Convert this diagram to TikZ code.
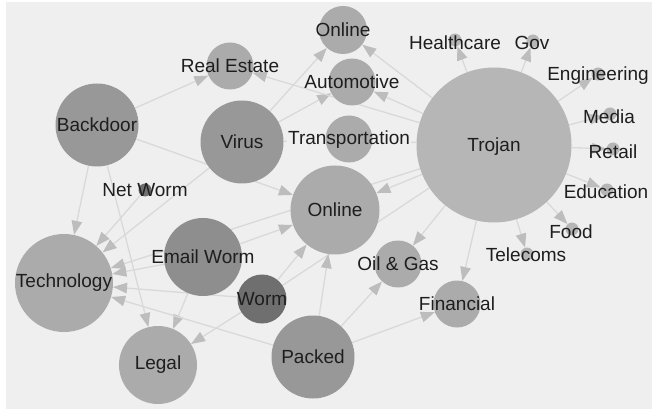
\documentclass[tikz,border=0pt]{standalone}
\usepackage{fontspec}
\setmainfont{Liberation Sans}
\usepackage{tikz}
\usetikzlibrary{arrows.meta}
\usetikzlibrary{backgrounds}

\definecolor{paper}{HTML}{EFEFEF}
\definecolor{wiregray}{HTML}{D9D9D9}
\definecolor{tipgray}{HTML}{BDBDBD}
\definecolor{palegray}{HTML}{B6B6B6}
\definecolor{midgray}{HTML}{ABABAB}
\definecolor{deepgray}{HTML}{989898}
\definecolor{emailgray}{HTML}{8E8E8E}
\definecolor{wormgray}{HTML}{6F6F6F}
\definecolor{inkgray}{HTML}{1E1E1E}

\tikzset{
	ball/.style={circle, inner sep=0pt, minimum size=#1, fill=midgray},
	dot/.style={ball=13pt, fill=palegray},
	lbl/.style={font=\fontsize{19}{21}\selectfont, text=inkgray, inner sep=1pt},
	wire/.style={draw=wiregray, line width=1.3pt},
	link/.style={wire, -{Triangle[length=14pt, width=10.5pt, color=tipgray]}}
}

\begin{document}
\begin{tikzpicture}[x=1pt, y=-1pt]
		\useasboundingbox (0,0) rectangle (652,411);

		\node[ball=48pt] (online-top) at (343,30) {};
		\node[ball=47pt] (realestate) at (230,66) {};
		\node[ball=47pt] (automotive) at (352,82) {};
		\node[ball=47pt] (transportation) at (349,139) {};
		\node[ball=83pt, fill=deepgray] (backdoor) at (97,125) {};
		\node[ball=83pt, fill=deepgray] (virus) at (242,142) {};
		\node[ball=155pt, fill=palegray] (trojan) at (494,145) {};
		\node[ball=89pt] (online) at (335,210) {};
		\node[ball=13pt, fill=wormgray] (networm) at (145,190) {};
		\node[ball=98pt] (technology) at (64,283) {};
		\node[ball=78pt, fill=emailgray] (emailworm) at (203,257) {};
		\node[ball=49pt, fill=wormgray] (worm) at (262,299) {};
		\node[ball=78pt] (legal) at (158,365) {};
		\node[ball=83pt, fill=deepgray] (packed) at (313,357) {};
		\node[ball=47pt] (oilgas) at (398,264) {};
		\node[ball=47pt] (financial) at (457,304) {};

		\node[dot] (healthcare) at (455,40) {};
		\node[dot] (gov) at (533,41) {};
		\node[dot] (engineering) at (598,74) {};
		\node[dot] (media) at (610,114) {};
		\node[dot] (retail) at (613,149) {};
		\node[dot] (education) at (607,190) {};
		\node[dot] (food) at (572,229) {};
		\node[dot] (telecoms) at (527,254) {};

		\node[lbl] at (online-top) {Online};
		\node[lbl] at (realestate) {Real Estate};
		\node[lbl] at (automotive) {Automotive};
		\node[lbl] (transportation-txt) at (349,140) {Transportation};
		\node[lbl] at (backdoor) {Backdoor};
		\node[lbl] at (virus) {Virus};
		\node[lbl] at (494,147) {Trojan};
		\node[lbl] at (online) {Online};
		\node[lbl] at (networm) {Net Worm};
		\node[lbl] at (technology) {Technology};
		\node[lbl] at (emailworm) {Email Worm};
		\node[lbl] at (worm) {Worm};
		\node[lbl] at (legal) {Legal};
		\node[lbl] at (packed) {Packed};
		\node[lbl] at (oilgas) {Oil \& Gas};
		\node[lbl] at (financial) {Financial};
		\node[lbl] at (455,43) {Healthcare};
		\node[lbl] at (532,43) {Gov};
		\node[lbl] at (598,76) {Engineering};
		\node[lbl] at (609,117) {Media};
		\node[lbl] at (613,152) {Retail};
		\node[lbl] at (606,192) {Education};
		\node[lbl] at (571,232) {Food};
		\node[lbl] at (526,255) {Telecoms};

		\begin{scope}[on background layer]
			\fill[white] (0,0) rectangle (652,411);
			\fill[paper] (6,2) rectangle (652,409);
			\draw[link] (backdoor) -- (realestate);
			\draw[link] (backdoor) -- (technology);
			\draw[link] (backdoor) -- (legal);
			\draw[link] (backdoor) -- (online);
			\draw[link] (virus) -- (online-top);
			\draw[link] (virus) -- (automotive);
			\draw[wire] (virus) -- (transportation-txt);
			\draw[link] (virus) -- (technology);
			\draw[link] (networm) -- (technology);
			\draw[link] (trojan) -- (online-top);
			\draw[link] (trojan) -- (automotive);
			\draw[link] (trojan) -- (realestate);
			\draw[wire] (trojan) -- (transportation-txt);
			\draw[link] (trojan) -- (online);
			\draw[link] (trojan) -- (technology);
			\draw[link] (trojan) -- (oilgas);
			\draw[link] (trojan) -- (financial);
			\draw[link] (trojan) -- (healthcare);
			\draw[link] (trojan) -- (gov);
			\draw[link] (trojan) -- (engineering);
			\draw[link] (trojan) -- (media);
			\draw[link] (trojan) -- (retail);
			\draw[link] (trojan) -- (education);
			\draw[link] (trojan) -- (food);
			\draw[link] (trojan) -- (telecoms);
			\draw[link] (emailworm) -- (online);
			\draw[link] (emailworm) -- (technology);
			\draw[link] (emailworm) -- (legal);
			\draw[link] (worm) -- (online);
			\draw[link] (worm) -- (technology);
			\draw[link] (worm) -- (legal);
			\draw[wire] (worm) -- (trojan);
			\draw[link] (packed) -- (online);
			\draw[link] (packed) -- (oilgas);
			\draw[link] (packed) -- (financial);
			\draw[link] (packed) -- (technology);
		\end{scope}
	\end{tikzpicture}
\end{document}
